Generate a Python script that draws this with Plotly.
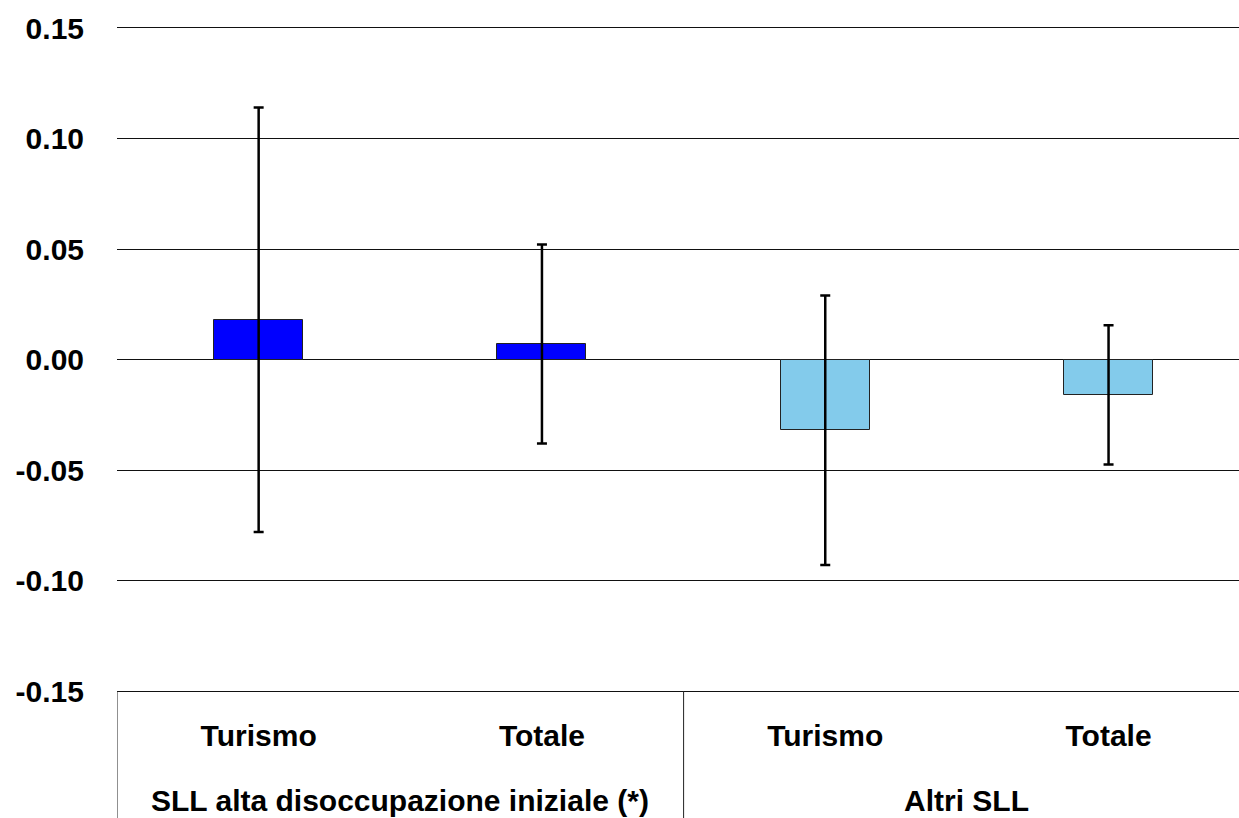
import plotly.graph_objects as go

# Data
categories = ["Turismo", "Totale", "Turismo", "Totale"]
groups = ["SLL alta disoccupazione iniziale (*)", "Altri SLL"]
group_of = [0, 0, 1, 1]
values = [0.018, 0.007, -0.032, -0.016]
errors = [0.096, 0.045, 0.061, 0.0315]
colors = ["#0000FF", "#0000FF", "#83CBEB", "#83CBEB"]
ytick_vals = [-0.15, -0.10, -0.05, 0.00, 0.05, 0.10, 0.15]
ytick_text = ["-0.15", "-0.10", "-0.05", "0.00", "0.05", "0.10", "0.15"]

FONT = "Liberation Sans, Arial, sans-serif"
xpos = list(range(len(categories)))

fig = go.Figure()
fig.add_trace(go.Bar(
    x=xpos, y=values, width=0.314,
    marker=dict(color=colors, line=dict(color="#222222", width=1)),
    error_y=dict(type="data", array=errors, visible=True,
                 color="black", thickness=2.5, width=5),
    showlegend=False,
))

# group labels and dividers
for g, name in enumerate(groups):
    idx = [i for i, gg in enumerate(group_of) if gg == g]
    center = (idx[0] + idx[-1]) / 2
    fig.add_annotation(x=center, y=-0.165, xref="x", yref="paper",
                       text="<b>" + name + "</b>", showarrow=False,
                       font=dict(family=FONT, size=30, color="black"),
                       xanchor="center", yanchor="middle")
    fig.add_shape(type="line", xref="x", yref="paper",
                  x0=idx[0] - 0.5, x1=idx[0] - 0.5, y0=0, y1=-0.3,
                  line=dict(color="#222222", width=1))

fig.update_layout(
    width=1239, height=818,
    margin=dict(l=117, r=0, t=28, b=127),
    paper_bgcolor="white", plot_bgcolor="white",
    bargap=0,
    xaxis=dict(
        range=[-0.5, -0.5 + 1122 / 283.3],
        tickvals=xpos, ticktext=["<b>" + c + "</b>" for c in categories],
        tickfont=dict(family=FONT, size=30, color="black"),
        showgrid=False, zeroline=False,
        showline=True, mirror=True, linecolor="#111111", linewidth=1,
        ticks="", ticklabelstandoff=18,
    ),
    yaxis=dict(
        range=[-0.15, 0.15],
        tickvals=ytick_vals, ticktext=["<b>" + t + "</b>" for t in ytick_text],
        tickfont=dict(family=FONT, size=30, color="black"),
        showgrid=True, gridcolor="#111111", gridwidth=1,
        zeroline=True, zerolinecolor="#111111", zerolinewidth=1,
        showline=False, ticks="", ticklabelstandoff=32,
    ),
)

fig.write_html("out.html", config={"displayModeBar": False},
               post_script="document.body.style.margin='0';document.body.style.overflow='hidden';")
